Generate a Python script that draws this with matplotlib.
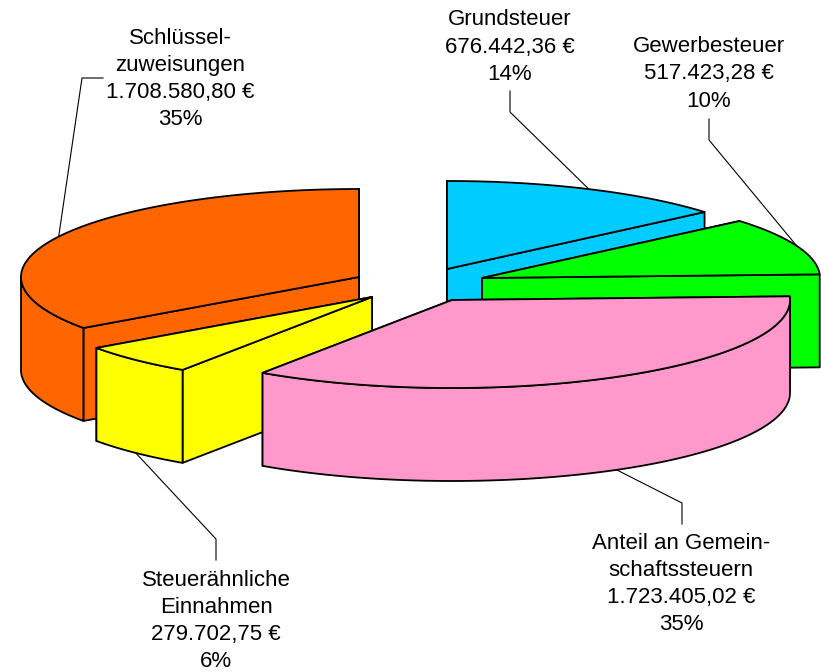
import matplotlib
matplotlib.use('Agg')
import matplotlib.pyplot as plt
import numpy as np
from matplotlib.patches import Polygon

plt.rcParams['font.family'] = ['Liberation Sans', 'DejaVu Sans']

# data, clockwise from 12 o'clock
names = ['Grundsteuer', 'Gewerbesteuer', 'Anteil an Gemein-\nschaftssteuern',
         'Steuerähnliche\nEinnahmen', 'Schlüssel-\nzuweisungen']
values = [676442.36, 517423.28, 1723405.02, 279702.75, 1708580.80]
value_labels = ['676.442,36 €', '517.423,28 €', '1.723.405,02 €', '279.702,75 €', '1.708.580,80 €']
percent_labels = ['14%', '10%', '35%', '6%', '35%']

colors = ['#00CCFF', '#00FF00', '#FF99CC', '#FFFF00', '#FF6600']

# layout in pixels
apex = [(447, 269), (482, 278), (452, 300), (372, 297), (359, 277)]
rx, ry = 338, 88
depth = 93
text_pos = [(510, 47), (709, 74), (681, 584), (216, 621), (180, 79)]
elbow = [(510, 112), (709, 140), (682, 503), (216, 539), (82, 78)]
leader_end = [(510, 91), (709, 119), (682, 524), (216, 560), (103, 78)]
draw_order = [4, 0, 1, 3, 2]

fig = plt.figure(figsize=(8.21, 6.72), dpi=100)
ax = fig.add_axes([0, 0, 1, 1])
ax.set_xlim(0, 821)
ax.set_ylim(672, 0)
ax.axis('off')

fractions = np.array(values) / sum(values)
edges = np.concatenate([[0], np.cumsum(fractions)]) * 2 * np.pi


def rim(cx, cy, t):
    return np.column_stack([cx + rx * np.sin(t), cy - ry * np.cos(t)])


def shape(pts, color, z):
    ax.add_patch(Polygon(pts, closed=True, facecolor=color, edgecolor='black',
                         linewidth=1.3, joinstyle='round', zorder=z))


for z, i in enumerate(draw_order):
    cx, cy = apex[i]
    t0, t1 = edges[i], edges[i + 1]
    base = z * 10

    # cut faces, the one further back first
    faces = sorted([t0, t1], key=lambda t: np.cos(t), reverse=True)
    for n, t in enumerate(faces):
        p = rim(cx, cy, np.array([t]))[0]
        shape([(cx, cy), p, (p[0], p[1] + depth), (cx, cy + depth)], colors[i], base + n)

    # outer wall, only the part that faces the viewer
    w0, w1 = max(t0, np.pi / 2), min(t1, 3 * np.pi / 2)
    if w1 > w0:
        arc = rim(cx, cy, np.linspace(w0, w1, 120))
        low = arc[::-1] + [0, depth]
        shape(np.vstack([arc, low]), colors[i], base + 2)

    # top
    arc = rim(cx, cy, np.linspace(t0, t1, 200))
    shape(np.vstack([[(cx, cy)], arc]), colors[i], base + 3)

    # leader line from the middle of the slice
    mid = (t0 + t1) / 2
    a = rim(cx, cy, np.array([mid]))[0]
    if np.cos(mid) < 0:
        a = a + [0, depth]
    ax.plot([a[0], elbow[i][0], leader_end[i][0]], [a[1], elbow[i][1], leader_end[i][1]],
            color='black', linewidth=0.8, zorder=100)

    label = names[i] + '\n' + value_labels[i] + '\n' + percent_labels[i]
    ax.text(text_pos[i][0], text_pos[i][1], label, ha='center', va='center',
            fontsize=16, linespacing=1.39, color='black', zorder=101)

fig.savefig('out.png', dpi=100)
